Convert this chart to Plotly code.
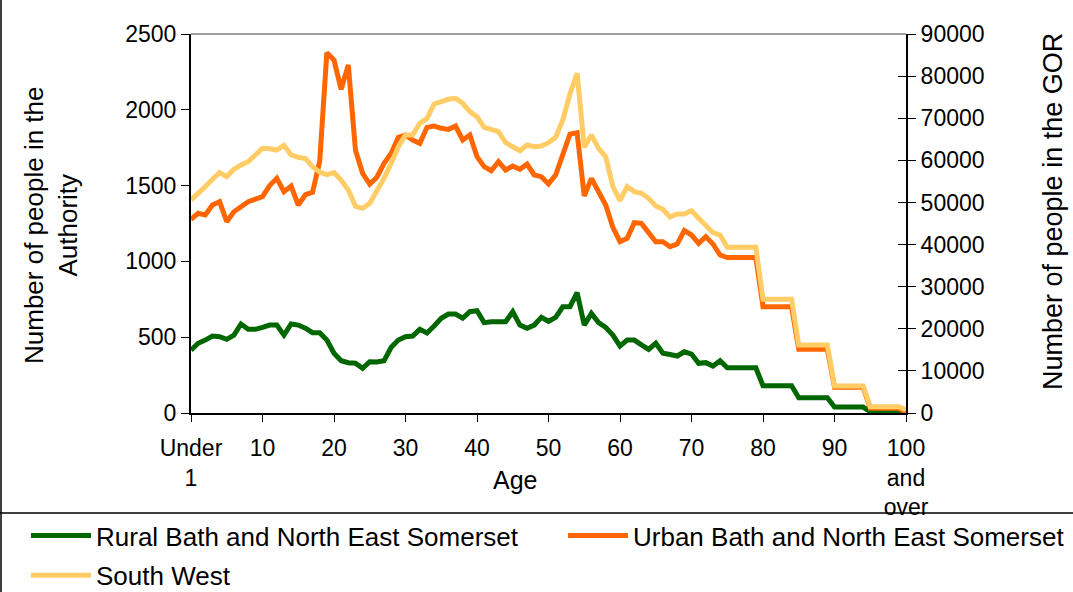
import plotly.graph_objects as go

ages = list(range(101))
tick_vals = [0, 10, 20, 30, 40, 50, 60, 70, 80, 90, 100]
tick_text = ["Under<br>1", "10", "20", "30", "40", "50", "60", "70", "80", "90", "100<br>and<br>over"]

rural = [415, 460, 481, 508, 503, 486, 514, 587, 552, 552,
         565, 580, 580, 514, 587, 580, 560, 530, 530, 481,
         394, 345, 332, 328, 295, 338, 336, 345, 433, 481,
         503, 508, 552, 528, 574, 625, 653, 653, 625, 668,
         675, 596, 602, 602, 602, 668, 580, 559, 580, 631,
         605, 631, 701, 701, 794, 580, 657, 596, 565, 514,
         442, 481, 481, 449, 420, 460, 394, 386, 376, 404,
         389, 328, 332, 310, 345, 298, 298, 298, 298, 298,
         180, 180, 180, 180, 180, 101, 101, 101, 101, 101,
         39, 39, 39, 39, 39, 9, 9, 9, 9, 9,
         2]

urban = [1278, 1317, 1306, 1372, 1394, 1262, 1328, 1365, 1394, 1410,
         1427, 1500, 1548, 1460, 1497, 1372, 1440, 1455, 1660, 2377,
         2328, 2135, 2295, 1735, 1581, 1510, 1555, 1647, 1713, 1818,
         1834, 1801, 1779, 1884, 1893, 1878, 1871, 1893, 1801, 1834,
         1691, 1625, 1598, 1658, 1603, 1629, 1607, 1642, 1570, 1559,
         1511, 1570, 1702, 1840, 1849, 1431, 1548, 1453, 1372, 1225,
         1130, 1152, 1255, 1251, 1185, 1130, 1130, 1097, 1115, 1203,
         1174, 1119, 1163, 1115, 1042, 1025, 1025, 1025, 1025, 1025,
         701, 701, 701, 701, 701, 420, 420, 420, 420, 420,
         170, 170, 170, 170, 170, 31, 31, 31, 31, 31,
         3]

south_west = [50580, 52000, 53750, 55500, 57070, 56120, 57870, 58900, 59680, 61270,
              62850, 62770, 62450, 63570, 61270, 60720, 60400, 58500, 57200, 56600,
              57070, 55330, 52960, 49100, 48600, 49800, 52560, 55730, 59300, 63240,
              66020, 66020, 68800, 69900, 73380, 74090, 74490, 74730, 73540, 71560,
              70370, 67840, 67370, 66800, 64190, 63240, 62290, 63640, 63240, 63400,
              64200, 65470, 69580, 75750, 80670, 63080, 66020, 62850, 60870, 53750,
              50420, 53750, 52560, 52170, 50980, 49160, 48370, 46550, 47260, 47260,
              48050, 46230, 44410, 42820, 42270, 39350, 39350, 39350, 39350, 39350,
              27000, 27000, 27000, 27000, 27000, 16150, 16150, 16150, 16150, 16150,
              6400, 6400, 6400, 6400, 6400, 1500, 1500, 1500, 1500, 1500,
              700]

GREEN = "#006600"
ORANGE = "#FF6600"
YELLOW = "#FFCC66"
FONT = "Liberation Sans, Arial, sans-serif"

W, H = 1073, 592
L, R, T, B = 191, 906, 34, 413  # plot area pixel box


def px(x):
    return (x - L) / (R - L)


def py(y):
    return (B - y) / (B - T)


fig = go.Figure()
fig.add_trace(go.Scatter(x=ages, y=rural, mode="lines", name="Rural Bath and North East Somerset",
                         legend="legend", legendgroup="rural",
                         line=dict(color=GREEN, width=5)))
fig.add_trace(go.Scatter(x=ages, y=urban, mode="lines", name="Urban Bath and North East Somerset",
                         legend="legend2", legendgroup="urban",
                         line=dict(color=ORANGE, width=5)))
fig.add_trace(go.Scatter(x=ages, y=south_west, mode="lines", name="South West", yaxis="y2",
                         legend="legend", legendgroup="sw",
                         line=dict(color=YELLOW, width=5)))
# carrier for the inner half of the crossing ticks on the right axis
fig.add_trace(go.Scatter(x=[], y=[], yaxis="y3", showlegend=False, hoverinfo="skip"))

legend_common = dict(orientation="v", xref="container", yref="container",
                     xanchor="left", yanchor="top",
                     font=dict(size=26, family=FONT, color="black"),
                     itemwidth=60, bgcolor="rgba(0,0,0,0)", borderwidth=0,
                     tracegroupgap=3)

fig.update_layout(
    template="none",
    width=W, height=H, autosize=False,
    margin=dict(l=L, r=W - R, t=T, b=H - B, pad=0, autoexpand=False),
    paper_bgcolor="white", plot_bgcolor="white",
    font=dict(family=FONT, color="black", size=23),
    showlegend=True,
    legend=dict(x=26 / W, y=1 - 512 / H, **legend_common),
    legend2=dict(x=563 / W, y=1 - 512 / H, **legend_common),
    xaxis=dict(range=[0, 100], tickmode="array", tickvals=tick_vals, ticktext=tick_text,
               ticks="outside", ticklen=7, tickcolor="black", showline=True, linecolor="black",
               linewidth=2, showgrid=False, zeroline=False, tickfont=dict(size=23),
               ticklabelstandoff=6, automargin=False),
    yaxis=dict(range=[0, 2500], dtick=500, ticks="outside", ticklen=8, tickcolor="black",
               showline=True, linecolor="black", linewidth=2, showgrid=False, zeroline=False,
               tickfont=dict(size=23), automargin=False),
    yaxis2=dict(range=[0, 90000], dtick=10000, overlaying="y", side="right", anchor="x",
                tickformat="d", ticks="outside", ticklen=8, tickcolor="black",
                showline=True, linecolor="black", linewidth=2, showgrid=False, zeroline=False,
                tickfont=dict(size=23), automargin=False),
    yaxis3=dict(range=[0, 90000], dtick=10000, overlaying="y", side="right", anchor="x",
                ticks="inside", ticklen=8, tickcolor="black", showticklabels=False,
                showline=False, showgrid=False, zeroline=False, automargin=False),
)

fig.update_layout(annotations=[
    dict(text="Number of people in the<br>Authority", x=px(51), y=py(225), xref="paper", yref="paper",
         showarrow=False, textangle=-90, font=dict(size=26), xanchor="center", yanchor="middle"),
    dict(text="Number of people in the GOR", x=px(1053), y=py(212), xref="paper", yref="paper",
         showarrow=False, textangle=-90, font=dict(size=27), xanchor="center", yanchor="middle"),
    dict(text="Age", x=px(515), y=py(480), xref="paper", yref="paper",
         showarrow=False, font=dict(size=25), xanchor="center", yanchor="middle"),
])

fig.update_layout(shapes=[
    dict(type="line", xref="paper", yref="paper", x0=0, x1=1, y0=1, y1=1,
         line=dict(color="#808080", width=1.5)),
    dict(type="line", xref="paper", yref="paper", x0=px(1), x1=px(1), y0=py(0), y1=py(592),
         line=dict(color="black", width=1.5)),
    dict(type="line", xref="paper", yref="paper", x0=px(0), x1=px(1073), y0=py(513), y1=py(513),
         line=dict(color="black", width=1.5)),
])

fig.write_html("out.html", config={"displayModeBar": False},
               post_script="document.body.style.margin='0';")
